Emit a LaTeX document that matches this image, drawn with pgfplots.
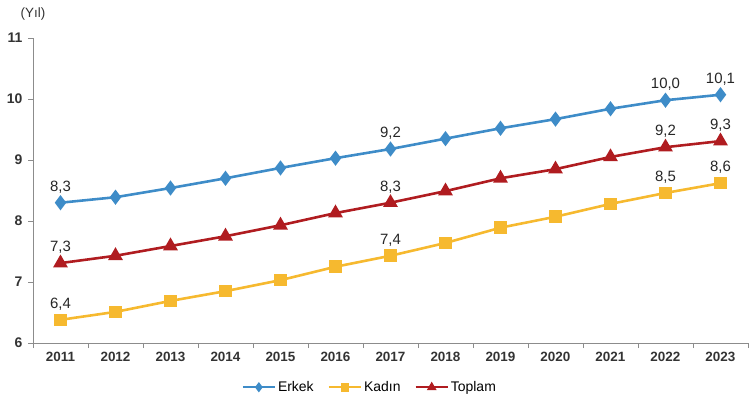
\documentclass[border=0pt]{standalone}
\usepackage{pgfplots}
\pgfplotsset{compat=1.18}
\usepackage{fontspec}
\setmainfont{Liberation Sans}
\definecolor{cErkek}{HTML}{3E8CC8}
\definecolor{cKadin}{HTML}{F6B92F}
\definecolor{cToplam}{HTML}{B01C20}
\definecolor{axgray}{HTML}{8C8C8C}
\begin{document}
\begin{tikzpicture}
\begin{axis}[
  at={(33bp,56bp)}, anchor=south west,
  scale only axis, width=715bp, height=305bp,
  xmin=2010.5, xmax=2023.5, ymin=6, ymax=11,
  axis x line*=bottom, axis y line*=left,
  axis line style={axgray, line width=0.8pt},
  xtick={2011,2012,...,2023},
  minor xtick={2010.5,2011.5,...,2023.5},
  major x tick style={draw=none},
  minor x tick style={axgray, line width=0.8pt},
  minor tick length=5bp,
  ytick={6,7,8,9,10,11},
  y tick style={axgray, line width=0.8pt},
  major tick length=5bp,
  tick align=outside,
  /pgf/number format/assume math mode=true,
  xticklabel style={/pgf/number format/1000 sep={}, font=\fontsize{13.5}{15}\selectfont\bfseries\color{black!80}},
  yticklabel style={font=\fontsize{14}{16}\selectfont\bfseries\color{black!80}, xshift=-2bp},
  x tick label style={yshift=-1bp},
  legend style={at={(0.471,-0.145)}, anchor=center, draw=none, legend columns=3,
     font=\fontsize{14}{16}\selectfont, inner sep=0pt,
     /tikz/every even column/.append style={column sep=12bp}},
  legend image code/.code={
     \draw[#1, line width=2.4pt, mark size=3.2pt, mark repeat=2, mark phase=2] plot coordinates {(0bp,0bp) (16bp,0bp) (32bp,0bp)};},
  point meta=explicit symbolic,
  nodes near coords={\pgfplotspointmeta},
  every node near coord/.append style={font=\fontsize{15}{17}\selectfont, anchor=south, yshift=5bp, text=black!85},
]
\addplot[cErkek, line width=2.6pt, mark=diamond*, mark size=5.5bp, mark options={solid}] coordinates {
 (2011,8.30)[8,3] (2012,8.39)[] (2013,8.54)[] (2014,8.70)[] (2015,8.87)[] (2016,9.03)[]
 (2017,9.18)[9,2] (2018,9.35)[] (2019,9.52)[] (2020,9.67)[] (2021,9.84)[] (2022,9.98)[10,0] (2023,10.07)[10,1]};
\addlegendentry{Erkek}
\addplot[cKadin, line width=2.6pt, mark=square*, mark size=5bp] coordinates {
 (2011,6.38)[6,4] (2012,6.51)[] (2013,6.69)[] (2014,6.85)[] (2015,7.03)[] (2016,7.25)[]
 (2017,7.43)[7,4] (2018,7.64)[] (2019,7.89)[] (2020,8.07)[] (2021,8.28)[] (2022,8.46)[8,5] (2023,8.62)[8,6]};
\addlegendentry{Kadın}
\addplot[cToplam, line width=2.6pt, mark=triangle*, mark size=6bp] coordinates {
 (2011,7.31)[7,3] (2012,7.43)[] (2013,7.59)[] (2014,7.75)[] (2015,7.93)[] (2016,8.13)[]
 (2017,8.30)[8,3] (2018,8.49)[] (2019,8.70)[] (2020,8.85)[] (2021,9.05)[] (2022,9.21)[9,2] (2023,9.31)[9,3]};
\addlegendentry{Toplam}
\end{axis}
\node[font=\fontsize{13.5}{15}\selectfont, text=black!80] at (33bp,385bp) {(Yıl)};
\pgfresetboundingbox
\useasboundingbox (0,0) rectangle (750bp,399bp);
\end{tikzpicture}
\end{document}
